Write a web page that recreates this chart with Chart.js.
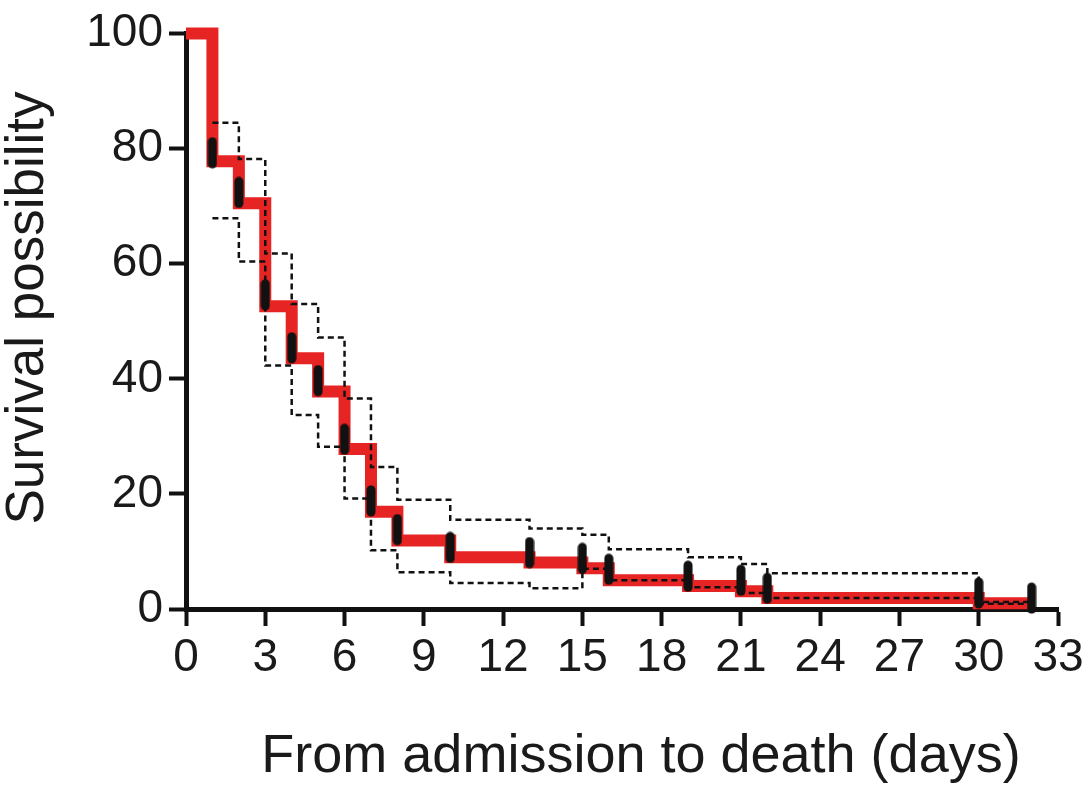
<!DOCTYPE html>
<html lang="en">

<head>
    <meta charset="UTF-8">
    <title>Survival curve</title>
    <script src="https://cdn.jsdelivr.net/npm/chart.js"></script>
    <style>
        body { margin: 0; background: #fff; }
        canvas { display: block; }
    </style>
</head>

<body>
    <canvas id="chart" width="1091" height="789"></canvas>

    <script>
        // Kaplan-Meier steps (days -> survival %)
        var stepDays = [0, 1, 2, 3, 4, 5, 6, 7, 8, 10, 13, 15, 16, 19, 21, 22, 30, 32];
        var survival = [100, 77.8, 70.5, 52.6, 43.6, 37.8, 27.8, 16.9, 11.9, 9.0, 8.1, 7.1, 5.0, 4.0, 3.1, 1.9, 1.0, 1.0];

        // confidence band, starts at day 1
        var ciDays = [1, 2, 3, 4, 5, 6, 7, 8, 10, 13, 15, 16, 19, 21, 22, 30, 32];
        var upperCI = [84.5, 78.2, 61.8, 53.0, 47.2, 36.6, 24.7, 19.0, 15.5, 14.0, 12.9, 10.4, 9.0, 7.8, 6.2, 1.2, 1.2];
        var lowerCI = [67.9, 60.4, 42.3, 33.7, 28.2, 19.2, 10.2, 6.4, 4.5, 3.6, 7.0, 5.0, 3.8, 2.8, 1.9, 0.9, 0.9];

        // black tick marks on the curve
        var markDays = [1, 2, 3, 4, 5, 6, 7, 8, 10, 13, 15, 16, 19, 21, 22, 30, 32];
        var markValues = [79.3, 72.4, 54.6, 45.4, 39.7, 29.5, 18.8, 13.8, 10.7, 9.8, 8.8, 6.9, 5.7, 5.0, 3.6, 2.8, 1.9];

        var xTitle = 'From admission to death (days)';
        var yTitle = 'Survival possibility';

        var FONT = '"Liberation Sans", Arial, sans-serif';
        var INK = '#1a1a1a';

        function toPoints(xs, ys) {
            return xs.map(function (x, i) { return { x: x, y: ys[i] }; });
        }

        // capsule shaped marker
        var mark = document.createElement('canvas');
        mark.width = 10;
        mark.height = 32;
        var mctx = mark.getContext('2d');
        mctx.strokeStyle = '#111';
        mctx.lineWidth = 9;
        mctx.lineCap = 'round';
        mctx.beginPath();
        mctx.moveTo(5, 5);
        mctx.lineTo(5, 27);
        mctx.stroke();

        var axisTitles = {
            id: 'axisTitles',
            afterDraw: function (chart) {
                var c = chart.ctx;
                c.save();
                c.fillStyle = INK;
                c.textAlign = 'center';
                c.textBaseline = 'alphabetic';
                c.font = '54px ' + FONT;
                c.fillText(xTitle, 641, 772);
                c.translate(43, 308);
                c.rotate(-Math.PI / 2);
                c.font = '53px ' + FONT;
                c.fillText(yTitle, 0, 0);
                c.restore();
            }
        };

        // step drawn horizontal first, then down
        var dashed = {
            borderColor: '#111',
            borderWidth: 2.5,
            borderDash: [6, 4],
            stepped: 'before',
            pointRadius: 0,
            fill: false,
            clip: false,
            order: 1
        };

        var ctx = document.getElementById('chart').getContext('2d');
        new Chart(ctx, {
            type: 'line',
            data: {
                datasets: [
                    {
                        type: 'scatter',
                        data: toPoints(markDays, markValues),
                        pointStyle: mark,
                        pointRadius: 10,
                        clip: false,
                        order: 0
                    },
                    Object.assign({ data: toPoints(ciDays, upperCI) }, dashed),
                    Object.assign({ data: toPoints(ciDays, lowerCI) }, dashed),
                    {
                        data: toPoints(stepDays, survival),
                        borderColor: '#e62424',
                        borderWidth: 12,
                        stepped: 'before',
                        pointRadius: 0,
                        fill: false,
                        clip: false,
                        order: 2
                    }
                ]
            },
            options: {
                responsive: false,
                animation: false,
                layout: { padding: { left: 0, top: 28, right: 33, bottom: 0 } },
                plugins: { legend: { display: false }, tooltip: { enabled: false } },
                scales: {
                    x: {
                        type: 'linear',
                        min: 0,
                        max: 33,
                        ticks: { stepSize: 3, autoSkip: false, maxRotation: 0, padding: 5, color: INK, font: { family: FONT, size: 46 } },
                        grid: { drawOnChartArea: false, tickLength: 17, tickWidth: 4, tickColor: '#111' },
                        border: { color: '#111', width: 5 },
                        afterFit: function (s) { s.height = 180; }
                    },
                    y: {
                        min: 0,
                        max: 100,
                        ticks: { stepSize: 20, padding: 6, color: INK, font: { family: FONT, size: 46 } },
                        grid: { drawOnChartArea: false, tickLength: 17, tickWidth: 4, tickColor: '#111' },
                        border: { color: '#111', width: 5 },
                        afterFit: function (s) { s.width = 186; }
                    }
                }
            },
            plugins: [axisTitles]
        });
    </script>

</body>

</html>
